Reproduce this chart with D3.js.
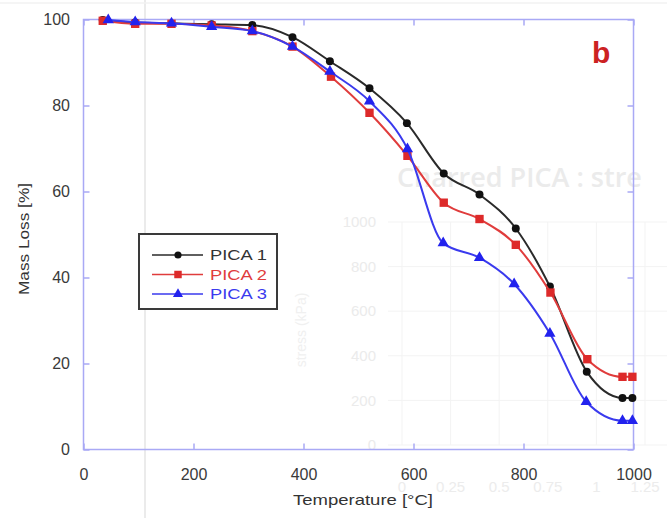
<!DOCTYPE html>
<html>
<head>
<meta charset="utf-8">
<script src="https://cdn.jsdelivr.net/npm/d3@7"></script>
<style>
  html, body { margin: 0; padding: 0; background: #fff; }
  svg { display: block; font-family: Arial, "Liberation Sans", sans-serif; }
</style>
</head>
<body>
<div id="chart"></div>
<script>
// series
const temps1 = [35, 94, 160, 233, 307, 380, 448, 520, 588, 655, 720, 786, 848, 915, 980, 998];
const mass1 = [99.9, 99.3, 99.1, 98.9, 98.7, 95.9, 90.3, 84.0, 75.9, 64.2, 59.3, 51.4, 37.9, 18.1, 12.0, 12.0];
const temps2 = [35, 94, 160, 233, 307, 380, 450, 520, 589, 655, 720, 786, 849, 916, 980, 998];
const mass2 = [99.7, 99.0, 99.0, 98.6, 97.3, 93.7, 86.7, 78.3, 68.3, 57.4, 53.6, 47.6, 36.5, 21.0, 16.9, 16.9];
const temps3 = [45, 94, 160, 233, 307, 380, 448, 520, 589, 654, 720, 783, 848, 914, 980, 998];
const mass3 = [99.9, 99.4, 99.1, 98.3, 97.3, 93.7, 87.9, 81.0, 69.9, 48.0, 44.6, 38.5, 27.0, 11.1, 6.7, 6.7];

const seriesNames = ['PICA 1', 'PICA 2', 'PICA 3'];
const xTicks = [0, 200, 400, 600, 800, 1000];
const yTicks = [0, 20, 40, 60, 80, 100];

// faint overlay from the pasted figure behind
const ghostYLabels = ['1000', '800', '600', '400', '200', '0'];
const ghostXLabels = ['0', '0.25', '0.5', '0.75', '1', '1.25'];

const width = 667;
const height = 518;

const svg = d3.select('#chart').append('svg')
    .attr('width', width)
    .attr('height', height);

svg.append('rect').attr('width', width).attr('height', height).attr('fill', '#fff');

// ghost stuff
const ghost = svg.append('g').attr('class', 'ghost');
ghost.append('line').attr('x1', 145).attr('x2', 145).attr('y1', 0).attr('y2', height)
    .attr('stroke', '#e4e4e4').attr('stroke-width', 1.5);
ghost.append('line').attr('x1', 0).attr('x2', width).attr('y1', 3).attr('y2', 3)
    .attr('stroke', '#f2f2f2').attr('stroke-width', 1.5);

const gy = d3.scalePoint().domain(ghostYLabels).range([222, 445]);
const gx = d3.scalePoint().domain(ghostXLabels).range([402, 645]);
ghost.selectAll('line.gh').data(ghostYLabels).join('line')
    .attr('class', 'gh')
    .attr('x1', 388).attr('x2', width)
    .attr('y1', (d) => gy(d)).attr('y2', (d) => gy(d))
    .attr('stroke', '#f3f3f3');
ghost.selectAll('line.gv').data(ghostXLabels).join('line')
    .attr('class', 'gv')
    .attr('x1', (d) => gx(d)).attr('x2', (d) => gx(d))
    .attr('y1', 222).attr('y2', 445)
    .attr('stroke', '#f3f3f3');
ghost.selectAll('text.gyl').data(ghostYLabels).join('text')
    .attr('class', 'gyl')
    .attr('x', 376).attr('y', (d) => gy(d)).attr('dy', '0.35em')
    .attr('text-anchor', 'end')
    .attr('font-size', 15).attr('fill', '#ebebeb')
    .text((d) => d);
ghost.selectAll('text.gxl').data(ghostXLabels).join('text')
    .attr('class', 'gxl')
    .attr('x', (d) => gx(d)).attr('y', 492)
    .attr('text-anchor', 'middle')
    .attr('font-size', 15).attr('fill', '#ececec')
    .text((d) => d);
ghost.append('text')
    .attr('x', 397).attr('y', 187)
    .attr('font-family', '"Open Sans", sans-serif')
    .attr('font-weight', 600)
    .attr('font-size', 27).attr('fill', '#ebebeb')
    .text('Charred PICA : stre');
ghost.append('text')
    .attr('transform', 'translate(306,330) rotate(-90)')
    .attr('text-anchor', 'middle')
    .attr('font-size', 14).attr('fill', '#f0f0f0')
    .text('stress (kPa)');

// main chart
const x = d3.scaleLinear().domain([0, 1000]).range([83.5, 633.5]);
const y = d3.scaleLinear().domain([0, 100]).range([449.5, 19.5]);

const axisColor = '#a9a9f5';

// frame
svg.append('rect')
    .attr('x', x(0)).attr('y', y(100))
    .attr('width', x(1000) - x(0)).attr('height', y(0) - y(100))
    .attr('fill', 'none').attr('stroke', axisColor).attr('stroke-width', 1.5);

function styleAxis(g) {
    g.select('.domain').remove();
    g.selectAll('.tick line').attr('stroke', axisColor).attr('stroke-width', 1.5);
    g.selectAll('.tick text').attr('fill', '#3a3a3a').attr('font-size', 16);
}

svg.append('g')
    .attr('transform', `translate(0,${y(0)})`)
    .call(d3.axisBottom(x).tickValues(xTicks).tickFormat(d3.format('d'))
        .tickSizeInner(-6).tickSizeOuter(0).tickPadding(19))
    .call(styleAxis);
svg.append('g')
    .attr('transform', `translate(0,${y(100)})`)
    .call(d3.axisTop(x).tickValues(xTicks).tickSizeInner(-6).tickSizeOuter(0).tickFormat(''))
    .call(styleAxis);
svg.append('g')
    .attr('transform', `translate(${x(0)},0)`)
    .call(d3.axisLeft(y).tickValues(yTicks).tickSizeInner(-6).tickSizeOuter(0).tickPadding(13.5))
    .call(styleAxis);
svg.append('g')
    .attr('transform', `translate(${x(1000)},0)`)
    .call(d3.axisRight(y).tickValues(yTicks).tickSizeInner(-6).tickSizeOuter(0).tickFormat(''))
    .call(styleAxis);

// axis titles
svg.append('text')
    .attr('x', 363).attr('y', 505)
    .attr('text-anchor', 'middle')
    .attr('font-size', 15).attr('fill', '#333')
    .attr('textLength', 140).attr('lengthAdjust', 'spacingAndGlyphs')
    .text('Temperature [°C]');
svg.append('text')
    .attr('transform', 'translate(29,239) rotate(-90)')
    .attr('text-anchor', 'middle')
    .attr('font-size', 14).attr('fill', '#333')
    .attr('textLength', 112).attr('lengthAdjust', 'spacingAndGlyphs')
    .text('Mass Loss [%]');

// series
const series = [
    { name: seriesNames[0], temps: temps1, mass: mass1, color: '#2a2a2a', marker: '#111', text: '#333', symbol: d3.symbolCircle, size: 50 },
    { name: seriesNames[1], temps: temps2, mass: mass2, color: '#e03c3c', marker: '#dd2a2a', text: '#e03c3c', symbol: d3.symbolSquare, size: 70 },
    { name: seriesNames[2], temps: temps3, mass: mass3, color: '#3a3aee', marker: '#2222ee', text: '#3a3aee', symbol: d3.symbolTriangle, size: 55 },
];

const line = d3.line()
    .x((d) => x(d[0]))
    .y((d) => y(d[1]))
    .curve(d3.curveMonotoneX);

series.forEach((s) => {
    const pts = s.temps.map((t, i) => [t, s.mass[i]]);
    svg.append('path')
        .datum(pts)
        .attr('d', line)
        .attr('fill', 'none')
        .attr('stroke', s.color)
        .attr('stroke-width', 2);
    svg.append('g').selectAll('path')
        .data(pts)
        .join('path')
        .attr('transform', (d) => `translate(${x(d[0])},${y(d[1])})`)
        .attr('d', d3.symbol().type(s.symbol).size(s.size))
        .attr('fill', s.marker);
});

// legend
const legend = svg.append('g');
legend.append('rect')
    .attr('x', 139).attr('y', 234).attr('width', 138).attr('height', 75)
    .attr('fill', '#fff').attr('stroke', '#3a3a3a').attr('stroke-width', 2);
const rowY = d3.scalePoint().domain(seriesNames).range([255, 294]);
series.forEach((s) => {
    const ly = rowY(s.name);
    legend.append('line')
        .attr('x1', 152).attr('x2', 203).attr('y1', ly).attr('y2', ly)
        .attr('stroke', s.color).attr('stroke-width', 1.5);
    legend.append('path')
        .attr('transform', `translate(178,${ly})`)
        .attr('d', d3.symbol().type(s.symbol).size(s.size * 0.8))
        .attr('fill', s.marker);
    legend.append('text')
        .attr('x', 210).attr('y', ly).attr('dy', '0.36em')
        .attr('font-size', 15).attr('fill', s.text)
        .attr('textLength', 57).attr('lengthAdjust', 'spacingAndGlyphs')
        .text(s.name);
});

// panel letter
svg.append('text')
    .attr('x', 592).attr('y', 63)
    .attr('font-size', 30).attr('font-weight', 'bold')
    .attr('fill', '#cc2222')
    .text('b');
</script>
</body>
</html>
